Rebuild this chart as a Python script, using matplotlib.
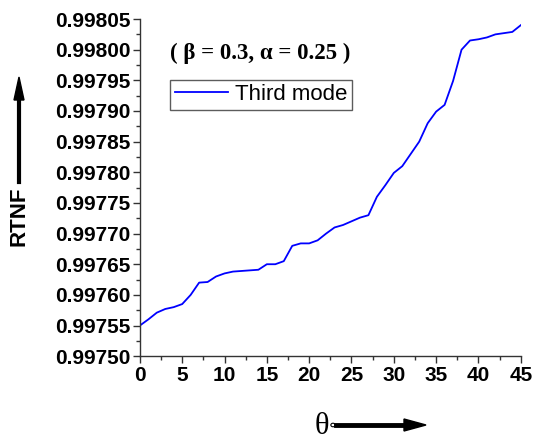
"""RTNF vs theta, third mode (beta = 0.3, alpha = 0.25)."""
import matplotlib
matplotlib.use("Agg")
import matplotlib.pyplot as plt
from matplotlib.ticker import MultipleLocator, FormatStrFormatter

BLUE = "#0000ff"

theta = list(range(0, 46))
rtnf = [
    0.997550, 0.997560, 0.997571, 0.997577, 0.997580, 0.997585, 0.997600, 0.997620,
    0.997621, 0.997630, 0.997635, 0.997638, 0.997639, 0.997640, 0.997641, 0.997650,
    0.997650, 0.997655, 0.997680, 0.997684, 0.997684, 0.997689, 0.997700, 0.997710,
    0.997714, 0.997720, 0.997726, 0.997730, 0.997760, 0.997779, 0.997799, 0.997810,
    0.997830, 0.997850, 0.997880, 0.997899, 0.997910, 0.997949, 0.998000, 0.998015,
    0.998017, 0.998020, 0.998025, 0.998027, 0.998029, 0.998040,
]
series_label = "Third mode"
note = "( \u03b2 = 0.3, \u03b1 = 0.25 )"

plt.rcParams["font.family"] = ["Liberation Sans", "DejaVu Sans"]

fig = plt.figure(figsize=(5.38, 4.43), dpi=100)
ax = fig.add_axes([0.260, 0.196, 0.708, 0.761])

ax.plot(theta, rtnf, color=BLUE, linewidth=1.3, label=series_label)

ax.set_xlim(0, 45)
ax.set_ylim(0.99750, 0.99805)
ax.xaxis.set_major_locator(MultipleLocator(5))
ax.xaxis.set_minor_locator(MultipleLocator(2.5))
ax.yaxis.set_major_locator(MultipleLocator(0.00005))
ax.yaxis.set_minor_locator(MultipleLocator(0.000025))
ax.yaxis.set_major_formatter(FormatStrFormatter("%.5f"))

for s in ("top", "right"):
    ax.spines[s].set_visible(False)
for s in ("left", "bottom"):
    ax.spines[s].set_color("#333333")
    ax.spines[s].set_linewidth(1.0)

ax.tick_params(which="major", direction="out", length=5, width=1.0, color="#333333", pad=2)
ax.tick_params(which="minor", direction="out", length=3, width=1.0, color="#333333")
for lab in ax.get_xticklabels() + ax.get_yticklabels():
    lab.set_fontweight("bold")
    lab.set_fontsize(15)
    lab.set_color("black")

ax.text(0.08, 0.897, note, transform=ax.transAxes, fontsize=16.5, fontweight="bold",
        family=["Liberation Serif", "DejaVu Serif"], va="center", ha="left")

leg = ax.legend(loc="upper left", bbox_to_anchor=(0.08, 0.82), fontsize=16,
                frameon=True, fancybox=False, handlelength=2.4, handletextpad=0.3,
                borderpad=0.2, borderaxespad=0)
leg.get_frame().set_edgecolor("#333333")
leg.get_frame().set_linewidth(1.0)

# y label with upward arrow
fig.text(19 / 538, 1 - 216 / 443, "RTNF", rotation=90, fontsize=16, fontweight="bold",
         ha="center", va="center")
fig.add_artist(plt.Line2D([19 / 538, 19 / 538], [1 - 182 / 443, 1 - 95 / 443],
                          transform=fig.transFigure, color="black", linewidth=3))
fig.patches.append(matplotlib.patches.Polygon(
    [(14 / 538, 1 - 100 / 443), (24 / 538, 1 - 100 / 443), (19 / 538, 1 - 77 / 443)],
    closed=True, transform=fig.transFigure, color="black", figure=fig))

# x label with rightward arrow
fig.text(322 / 538, 1 - 427 / 443, "\u03b8", fontsize=22,
         family=["Liberation Serif", "DejaVu Serif"], ha="center", va="center")
fig.patches.append(matplotlib.patches.Circle(
    (333 / 538, 1 - 425 / 443), 0.004, transform=fig.transFigure,
    facecolor="white", edgecolor="black", linewidth=0.8, figure=fig))
fig.add_artist(plt.Line2D([336 / 538, 408 / 538], [1 - 425 / 443, 1 - 425 / 443],
                          transform=fig.transFigure, color="black", linewidth=3.5))
fig.patches.append(matplotlib.patches.Polygon(
    [(404 / 538, 1 - 419 / 443), (404 / 538, 1 - 431 / 443), (426 / 538, 1 - 425 / 443)],
    closed=True, transform=fig.transFigure, color="black", figure=fig))

fig.savefig("out.png", dpi=100)
